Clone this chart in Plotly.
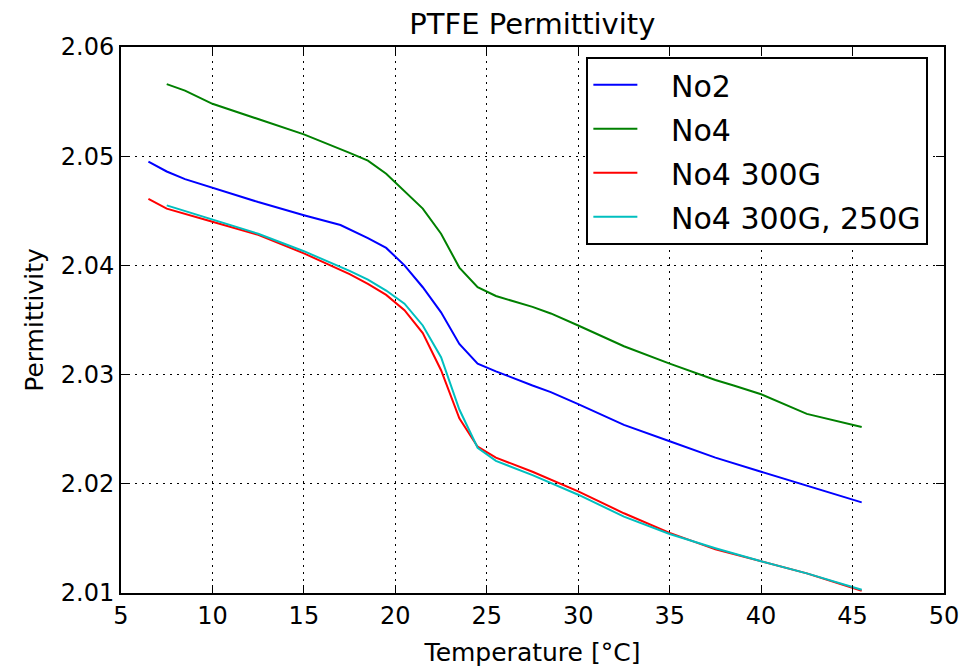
import plotly.graph_objects as go

# Temperature sweeps [°C] and measured permittivity for each PTFE sample
temp_no2 = [6.5, 7.5, 8.5, 10, 12.5, 15, 17, 18.5, 19.5, 20.5, 21.5, 22.5, 23.5,
            24.5, 25.5, 27.5, 28.5, 30, 32.5, 35, 37.5, 40, 42.5, 45.5]
eps_no2 = [2.0495, 2.0486, 2.0479, 2.0471, 2.0458, 2.0446, 2.0437, 2.0425, 2.0416,
           2.0400, 2.0380, 2.0357, 2.0328, 2.0310, 2.0303, 2.0290, 2.0284, 2.0273,
           2.0254, 2.0239, 2.0224, 2.0211, 2.0198, 2.0183]

temp_no4 = [7.5, 8.5, 10, 12.5, 13.5, 14.5, 15, 17.5, 18.5, 19.5, 20.5, 21.5, 22.5,
            23.5, 24.5, 25.5, 27.5, 28.5, 30, 32.5, 35, 37.5, 38.5, 40, 42.5, 45.5]
eps_no4 = [2.0566, 2.0560, 2.0548, 2.0534, 2.0528, 2.0523, 2.0520, 2.0503, 2.0496,
           2.0484, 2.0468, 2.0452, 2.0429, 2.0398, 2.0380, 2.0372, 2.0362, 2.0356,
           2.0345, 2.0326, 2.0310, 2.0295, 2.0290, 2.0282, 2.0264, 2.0252]

temp_no4_300 = [6.5, 7.5, 10, 12.5, 15, 17.5, 18.5, 19.5, 20.5, 21.5, 22.5, 23.5,
                24.5, 25.5, 27.5, 30, 32.5, 35, 37.5, 40, 42.5, 45.5]
eps_no4_300 = [2.0461, 2.0452, 2.0440, 2.0428, 2.0411, 2.0392, 2.0383, 2.0373, 2.0359,
               2.0338, 2.0304, 2.0260, 2.0234, 2.0224, 2.0211, 2.0193, 2.0173, 2.0155,
               2.0140, 2.0129, 2.0118, 2.0102]

temp_no4_250 = [7.5, 10, 12.5, 15, 17.5, 18.5, 19.5, 20.5, 21.5, 22.5, 23.5,
                24.5, 25.5, 27.5, 30, 32.5, 35, 37.5, 40, 42.5, 45.5]
eps_no4_250 = [2.0455, 2.0442, 2.0429, 2.0413, 2.0395, 2.0387, 2.0377, 2.0365, 2.0345,
               2.0316, 2.0268, 2.0233, 2.0221, 2.0208, 2.0190, 2.0170, 2.0154, 2.0141,
               2.0129, 2.0118, 2.0103]

series = [
    ("No2", temp_no2, eps_no2, "#0000ff"),
    ("No4", temp_no4, eps_no4, "#008000"),
    ("No4 300G", temp_no4_300, eps_no4_300, "#ff0000"),
    ("No4 300G, 250G", temp_no4_250, eps_no4_250, "#00bfbf"),
]

x_ticks = [5, 10, 15, 20, 25, 30, 35, 40, 45, 50]
y_ticks = [2.01, 2.02, 2.03, 2.04, 2.05, 2.06]

# extra gap between the legend line sample and its label
pad = "\u00a0" * 3

fig = go.Figure()
for i, (name, t, e, c) in enumerate(series):
    fig.add_trace(go.Scatter(x=t, y=e, mode="lines", name=pad + name,
                             legendgroup=f"g{i}",
                             line=dict(color=c, width=2)))

font_family = "DejaVu Sans"
axis_common = dict(
    showline=True, linecolor="black", linewidth=2, mirror="allticks",
    ticks="inside", ticklen=8, tickwidth=1, tickcolor="black",
    showgrid=True, gridcolor="black", gridwidth=1, griddash="2px,5px",
    zeroline=False, automargin=False,
    tickfont=dict(family=font_family, size=24, color="black"),
)

fig.update_layout(
    width=975, height=667,
    margin=dict(l=121, r=31, t=47, b=74),
    paper_bgcolor="white", plot_bgcolor="white",
    title=dict(text="PTFE Permittivity", x=0.546, xanchor="center", y=0.964,
               yanchor="middle",
               font=dict(family=font_family, size=29, color="black")),
    xaxis=dict(range=[5, 50], tickvals=x_ticks, ticktext=[str(v) for v in x_ticks],
               title=dict(text="Temperature [°C]", standoff=17,
                          font=dict(family=font_family, size=25, color="black")),
               **axis_common),
    yaxis=dict(range=[2.01, 2.06], tickvals=y_ticks,
               ticktext=[f"{v:.2f}" for v in y_ticks],
               title=dict(text="Permittivity", standoff=10,
                          font=dict(family=font_family, size=25, color="black")),
               **axis_common),
    legend=dict(x=0.981, xanchor="right", y=0.982, yanchor="top",
                bgcolor="white", bordercolor="black", borderwidth=2,
                font=dict(family=font_family, size=30, color="black"),
                tracegroupgap=2, itemwidth=44),
    showlegend=True,
)

fig.write_html("out.html")
